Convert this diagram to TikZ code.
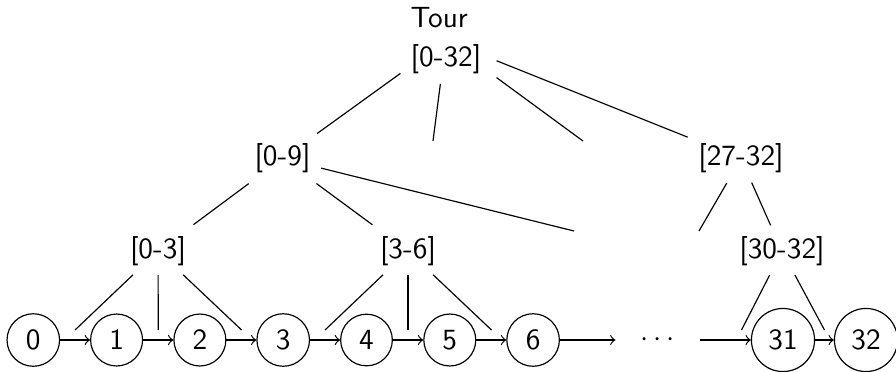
\documentclass[tikz,border=0pt]{standalone}
\begin{document}
\begin{tikzpicture}[x=0.3415pt,y=-0.3415pt,font=\sffamily,
  state/.style={circle,draw},
  lab/.style={inner sep=3.333pt},
  chainarrow/.style={->},
  treeedge/.style={draw}]
\useasboundingbox (0,0) rectangle (896,371);
% chain of states
\node[state] (n0) at (33.3,340) {0};
\node[state] (n1) at (116.6,340) {1};
\node[state] (n2) at (199.9,340) {2};
\node[state] (n3) at (283.2,340) {3};
\node[state] (n4) at (366.5,340) {4};
\node[state] (n5) at (449.8,340) {5};
\node[state] (n6) at (533.1,340) {6};
\node[minimum width=28.3pt] (dots) at (657.5,340) {$\cdots$};
\node[state] (n31) at (783,340) {31};
\node[state] (n32) at (866,340) {32};
\draw[chainarrow] (n0) -- (n1);
\draw[chainarrow] (n1) -- (n2);
\draw[chainarrow] (n2) -- (n3);
\draw[chainarrow] (n3) -- (n4);
\draw[chainarrow] (n4) -- (n5);
\draw[chainarrow] (n5) -- (n6);
\draw[chainarrow] (n6) -- (dots);
\draw[chainarrow] (dots) -- (n31);
\draw[chainarrow] (n31) -- (n32);
% tree labels
\node[lab,align=left] (r) at (446,40.5) {Tour\\[1.25pt]{}[0-32]};
\node[lab] (a) at (282.5,158.5) {[0-9]};
\node[lab] (c) at (741,158.5) {[27-32]};
\node[lab] (d) at (158,251) {[0-3]};
\node[lab] (e) at (408,251) {[3-6]};
\node[lab] (f) at (782,251) {[30-32]};
% free ends
\coordinate (b1) at (433,141);
\coordinate (b2) at (583,141);
\coordinate (b3) at (574,231);
\coordinate (b4) at (699,231);
\coordinate (l01) at (75,330);
\coordinate (l12) at (158.3,330);
\coordinate (l23) at (241.6,330);
\coordinate (l34) at (325,330);
\coordinate (l45) at (408,330);
\coordinate (l56) at (491.5,330);
\coordinate (l3031) at (741.5,330);
\coordinate (l3132) at (824.5,330);
% tree edges
\draw[treeedge,shorten <=19.2pt,shorten >=14.6pt] (r.center) -- (a.center);
\draw[treeedge,shorten <=14.9pt] (r.center) -- (b1);
\draw[treeedge,shorten <=21.4pt] (r.center) -- (b2);
\draw[treeedge,shorten <=18.6pt,shorten >=19.6pt] (r.center) -- (c.center);
\draw[treeedge,shorten <=14.4pt,shorten >=15.1pt] (a.center) -- (d.center);
\draw[treeedge,shorten <=14.4pt,shorten >=15.1pt] (a.center) -- (e.center);
\draw[treeedge,shorten <=13.6pt] (a.center) -- (b3);
\draw[treeedge,shorten <=9.7pt] (c.center) -- (b4);
\draw[treeedge,shorten <=9.0pt,shorten >=9.6pt] (c.center) -- (f.center);
\draw[treeedge,shorten <=11.8pt] (d.center) -- (l01);
\draw[treeedge,shorten <=8.2pt] (d.center) -- (l12);
\draw[treeedge,shorten <=11.8pt] (d.center) -- (l23);
\draw[treeedge,shorten <=11.8pt] (e.center) -- (l34);
\draw[treeedge,shorten <=8.2pt] (e.center) -- (l45);
\draw[treeedge,shorten <=11.8pt] (e.center) -- (l56);
\draw[treeedge,shorten <=9.3pt] (f.center) -- (l3031);
\draw[treeedge,shorten <=9.3pt] (f.center) -- (l3132);
\end{tikzpicture}
\end{document}
